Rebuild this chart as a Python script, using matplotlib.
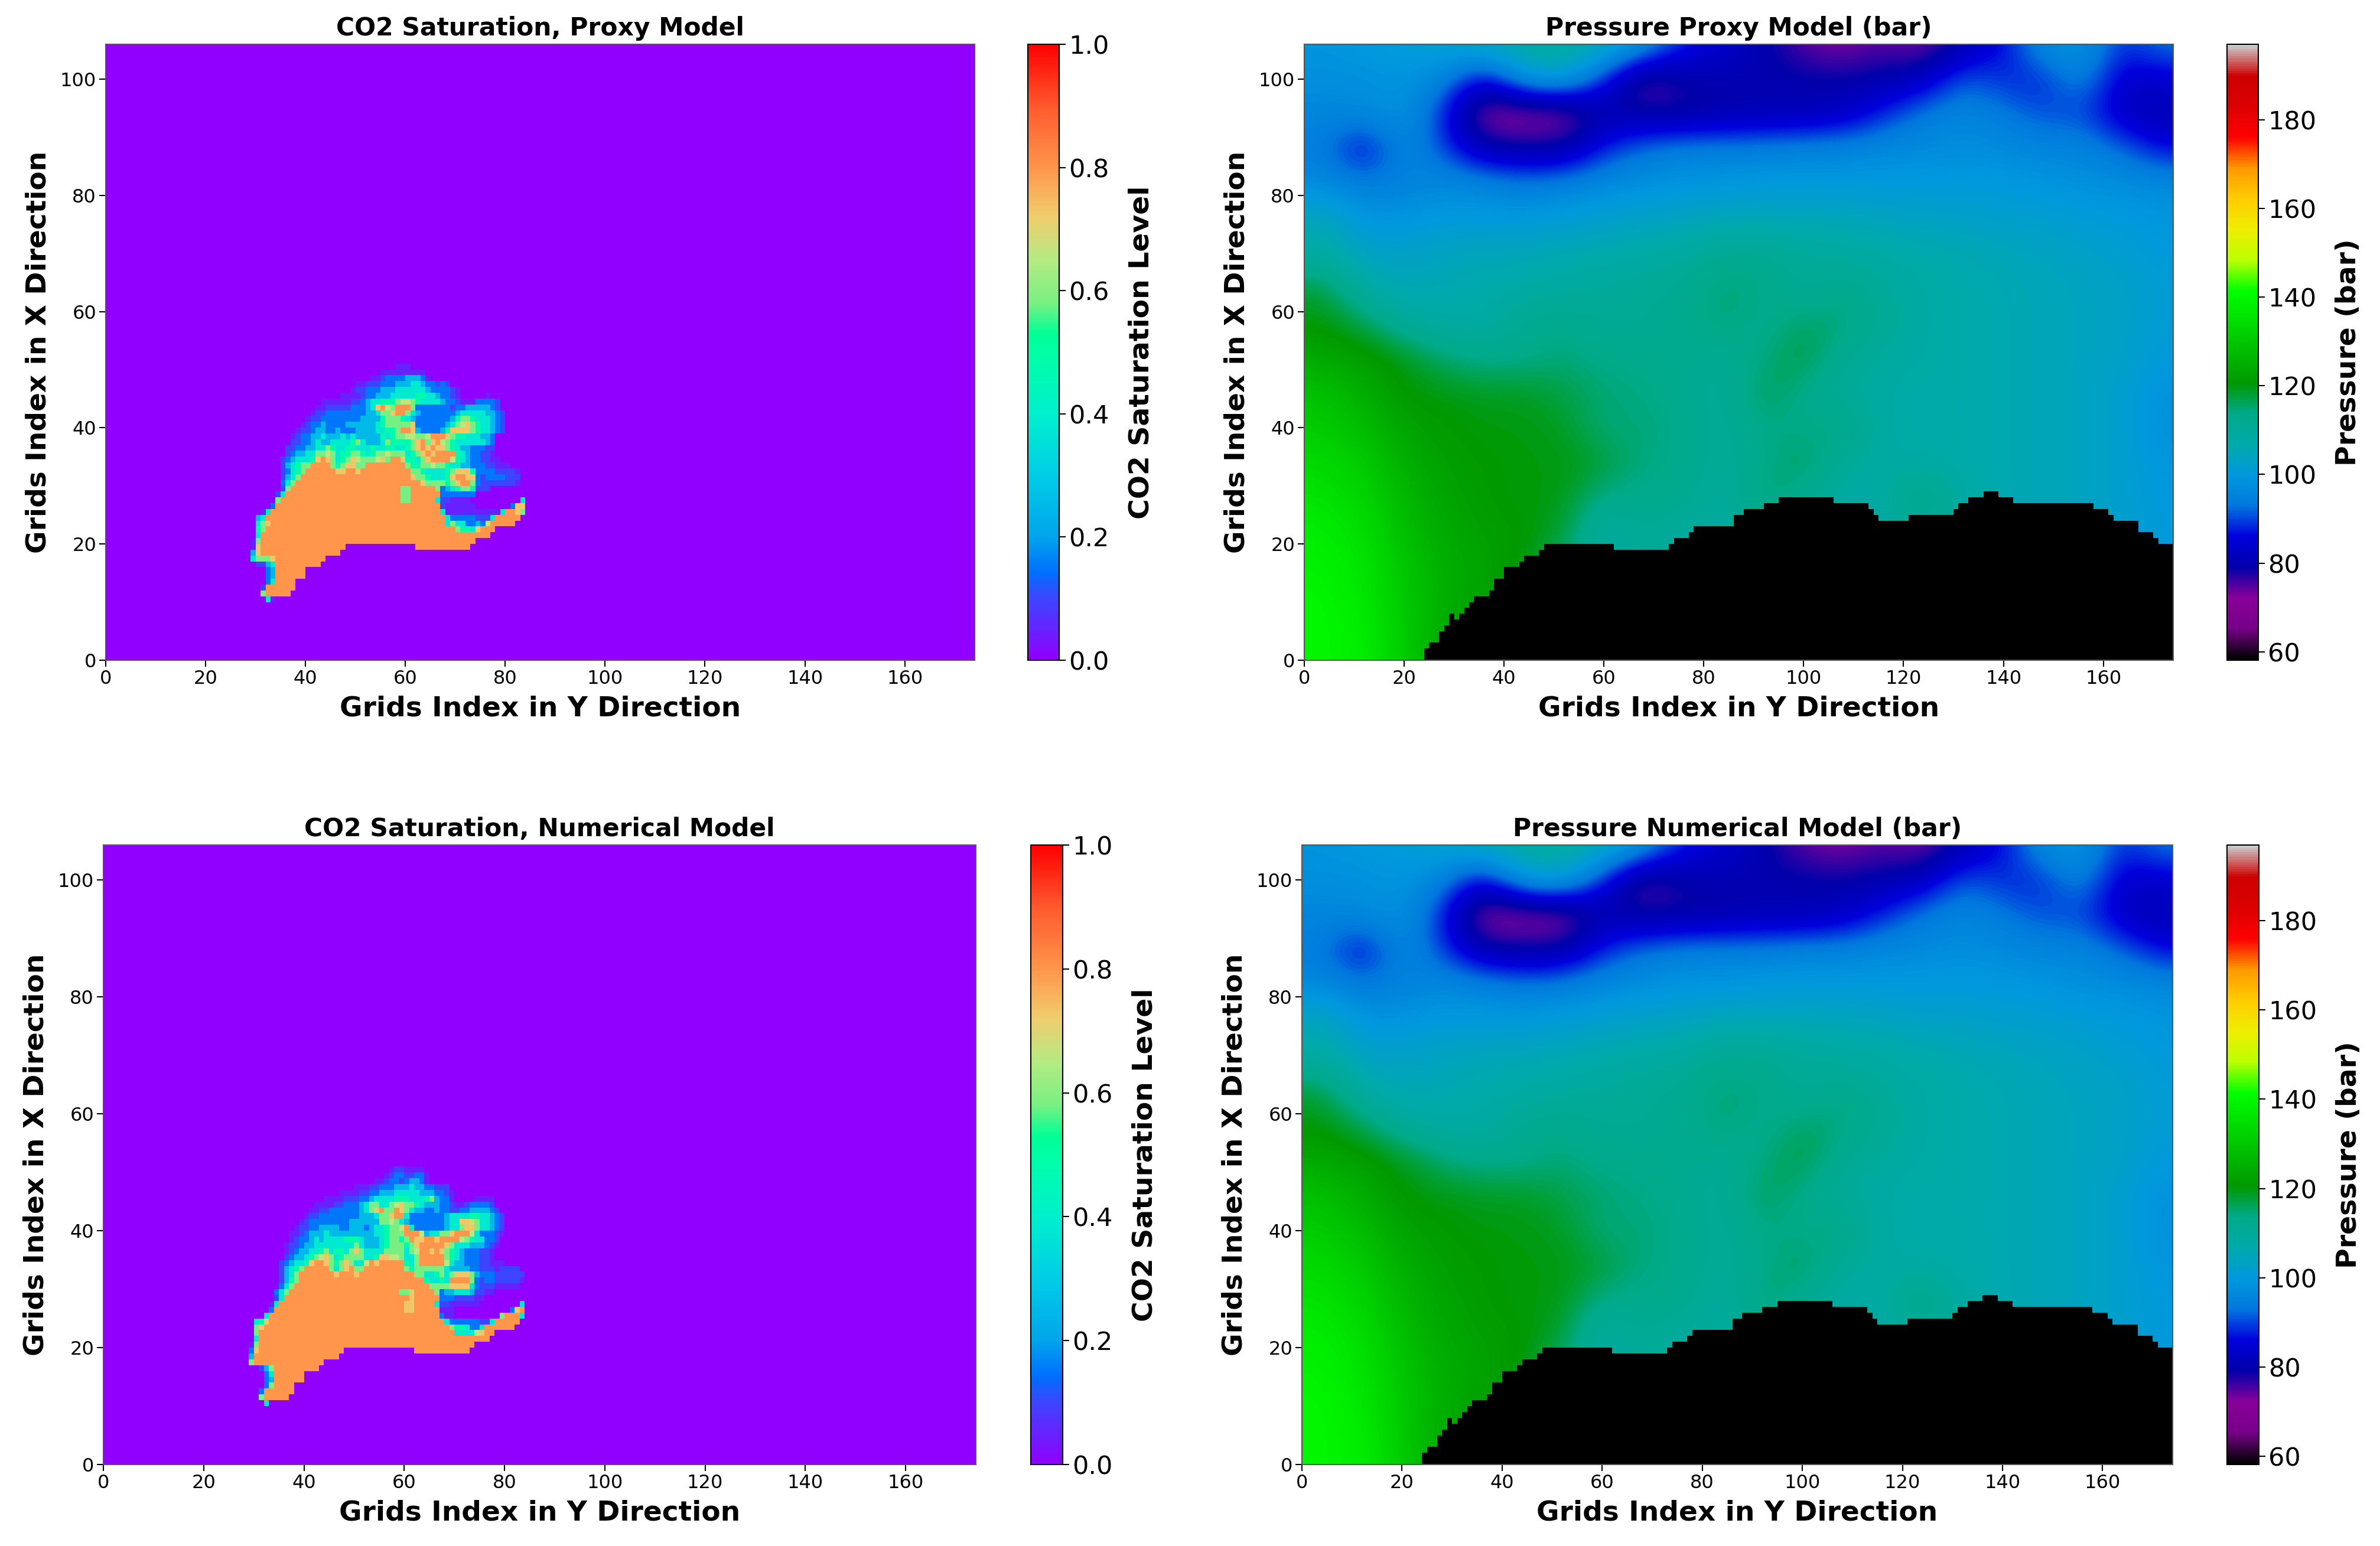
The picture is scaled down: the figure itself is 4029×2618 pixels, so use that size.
import numpy as np
import matplotlib
matplotlib.use("Agg")
import matplotlib.pyplot as plt
from matplotlib.colors import LinearSegmentedColormap

# ---- data ----
n_x = 174
n_y = 106

# saturation classes used in the plume rows
sat_codes = {'.': 0.0, 'a': 0.05, 'b': 0.1, 'c': 0.15, 'd': 0.25, 'e': 0.38,
             'f': 0.48, 'g': 0.58, 'h': 0.66, 'i': 0.73, 'j': 0.8}

first_row = 10

# first column of every plume row, rows 10..50
proxy_start = [32, 31, 31, 32, 32, 32, 30, 29, 29, 29, 29, 30, 30, 30, 30, 31, 33, 34, 34, 35, 35,
               35, 35, 35, 35, 36, 36, 37, 37, 38, 39, 40, 41, 42, 43, 47, 49, 50, 53, 55, 58]
proxy_rows = [
    "ea",
    "g" + "j" * 5,
    "b" + "j" * 6,
    "ce" + "j" * 4,
    "cd" + "j" * 6,
    "cd" + "j" * 6,
    "bbde" + "j" * 9,
    "egggi" + "j" * 10,
    "di" + "j" * 16,
    "ai" + "j" * 17 + "." * 14 + "j" * 11,
    "ag" + "j" * 43,
    "e" + "j" * 46,
    "fg" + "j" * 38 + "gffeijjj",
    "egi" + "j" * 35 + "egeeccdch" + "j" * 5,
    "de" + "j" * 36 + "e" + "ccccc" + "bbb" + "e" + "j" * 5,
    "ae" + "j" * 34 + "e" + "a" * 11 + "e" + "jjig",
    "c" + "j" * 33 + "b" + "a" * 6 + "." * 7 + "c" + "ii",
    "g" + "j" * 24 + "gg" + "j" * 5 + "e" + "bb" + "aaaa" + "." * 10 + "e",
    "be" + "j" * 23 + "gg" + "j" * 6 + "ccccccc",
    "bg" + "j" * 22 + "gg" + "j" * 5 + "g" + "cdefggf" + "bbb",
    "ceg" + "j" * 25 + "i" + "gggg" + "fgijjgc" + "bbbbbbb" + "a",
    "bdeg" + "j" * 22 + "iggfeeef" + "ijjii" + "cbccccbbb",
    "bcefg" + "j" * 6 + "ii" + "jj" + "i" + "j" * 10 + "ggfeeeef" + "giiif" + "ccccbbbba",
    "bdefgg" + "jjjj" + "gfgiigg" + "j" * 8 + "gffgghggf" + "eeddcccbbaaa",
    "bcdeeef" + "ijigefgihgggh" + "igjjiffegi" + "jjjj" + "hfedccbbaa",
    "bcddeegghgeffggfefgghggg" + "efgijijjjj" + "fedccbba",
    "bbccddeegfeeffeeefeeffee" + "fgijijiigfeddcccbb",
    "bbccdeddeeeefgedddegffffgijgijhgfeeeeeedc",
    "abccddedddededddddfefgghhgghjjjigffeeeddc",
    "abbcddccdcccddddeeffgjjidccccdfiiiigfeedcb",
    "abccdccccddddddefgggggiccccccdeghigfeedcb",
    "abbccccccccddddfgggfedcccccccdfggfeeedcb",
    "abbccccccccddeggijjgedcccccccdeeeeeddcb",
    "aabbbbbcccdeijhgjjjgcccccccbccdddddcb",
    "aaaaaabbcdeefffghhgfeeeedccbaaaccccb",
    "aaaabccdddeeeeeffeedccba.....a",
    "abbcccdddeeeeeedccccba",
    "aabbbcccdddeedccbcb",
    "aabccccdddca",
    "aaaaaaaaa",
    "aaa",
]

num_start = [32, 31, 31, 32, 32, 32, 31, 29, 29, 29, 29, 30, 30, 30, 30, 32, 33, 33, 34, 34, 35,
             35, 35, 35, 35, 36, 36, 36, 37, 37, 38, 39, 40, 41, 42, 44, 47, 50, 54, 56, 57]
num_rows = [
    "e",
    "g" + "j" * 5,
    "c" + "j" * 6,
    "cg" + "j" * 4,
    "cd" + "j" * 6,
    "ce" + "j" * 6,
    "bdg" + "j" * 9,
    "g" + "j" * 14,
    "d" + "j" * 17,
    "ci" + "j" * 17 + "." * 14 + "j" * 11,
    "ag" + "j" * 43,
    "e" + "j" * 46,
    "g" + "j" * 39 + "eeee" + "hijj",
    "gi" + "j" * 37 + "gffecce" + "j" * 6,
    "efi" + "j" * 35 + "e" + "cccccc" + "bb" + "e" + "j" * 5,
    "e" + "j" * 34 + "caa" + "." * 9 + "g" + "jjje",
    "c" + "j" * 26 + "ii" + "j" * 5 + "aaa" + "." * 11 + "c" + "ij",
    "ae" + "j" * 25 + "ii" + "j" * 4 + "e" + "bbaaaaaa" + "." * 8 + "e",
    "be" + "j" * 25 + "i" + "j" * 5 + "ccc" + "bbbb" + "aa",
    "ceg" + "j" * 22 + "ggi" + "j" * 4 + "g" + "cddeeedbbaa",
    "ceg" + "j" * 27 + "gggg" + "iiii" + "ec" + "bbb" + "aaaaa",
    "bdfg" + "j" * 25 + "feefejjjjgcbccbbbbba",
    "bdeg" + "j" * 7 + "i" + "jjj" + "i" + "j" * 11 + "ggeefgegiiigdcccbbbbbb",
    "bdefg" + "jjjjj" + "gegijgg" + "j" * 8 + "gfggggggeddddccbbbabbbb",
    "bcdeef" + "ijjigfgi" + "geeh" + "ji" + "j" * 5 + "feg" + "j" * 5 + "heddcccbbaaa",
    "bcddefghigefggggeefiihhgeeg" + "j" * 5 + "gfedcccbba",
    "abcddeefgeffegigeeeeggggeghjjijigfedcccbba",
    "abbcdd" + "eeeeeeee" + "gedddefgggfgi" + "j" * 5 + "igeeedddcba",
    "abccdedeeeefffedddefggfgjiijjijjjjhgfeeccb",
    "aabcddde" + "ddddddddd" + "eefgggjjjhdeeggijjjhecccba",
    "abbccddddccdddcdeefgghjeccccccdeegiigeedcb",
    "abccccccccddddddgghgedcccccccdeeiihgeedcb",
    "abbccccccccdddeggijjecccccccdeeeeffeedcb",
    "aabbccccccdegijggjigeddccdccbbccddddcb",
    "aaaabbcccdeggeeghiggfedddccbaabccccb",
    "aaaabbbccdeeeefffeeefgdcca....aaaa",
    "aaaabbccdddeeeeedddccba",
    "aaabbcccdddeddccbbb",
    "aabccbcddca",
    "abccbbcca",
    "abbaaaa",
]

# pressure in bar read every 8 columns (4, 12, ... 172) and every 6 rows (106, 100, ... -2)
pressure_rows = [
    [99, 100, 101, 103, 106, 109, 110, 107, 100, 88, 84, 80, 74, 72, 75, 72, 80, 86, 98, 100, 88, 94],
    [98, 98, 99, 96, 84, 100, 103, 88, 73, 79, 80, 80, 80, 79, 80, 82, 92, 88, 88, 96, 83, 84],
    [96, 97, 99, 88, 70, 70, 70, 80, 78, 78, 79, 80, 80, 82, 88, 94, 96, 94, 90, 90, 82, 80],
    [94, 84, 97, 90, 80, 79, 79, 88, 93, 95, 95, 95, 96, 96, 97, 97, 98, 97, 96, 96, 92, 86],
    [97, 94, 95, 97, 96, 94, 95, 97, 98, 99, 99, 100, 100, 100, 100, 100, 100, 100, 99, 98, 98, 97],
    [105, 99, 99, 100, 100, 100, 101, 102, 103, 104, 105, 105, 105, 105, 104, 103, 103, 102, 102, 101, 100, 99],
    [108, 103, 103, 104, 105, 105, 106, 107, 108, 109, 112, 112, 110, 109, 108, 107, 106, 105, 104, 103, 102, 100],
    [118, 108, 105, 106, 107, 108, 109, 110, 111, 112, 115, 114, 110, 113, 110, 108, 107, 106, 105, 104, 103, 101],
    [120, 117, 110, 108, 108, 112, 113, 111, 111, 112, 115, 112, 116, 115, 111, 108, 107, 106, 105, 104, 103, 101],
    [124, 122, 120, 115, 113, 113, 115, 113, 113, 112, 111, 114, 118, 111, 109, 108, 107, 106, 105, 104, 103, 100],
    [129, 125, 120, 120, 119, 119, 117, 115, 114, 112, 110, 117, 113, 110, 108, 107, 107, 106, 105, 104, 102, 98],
    [131, 128, 123, 121, 120, 120, 119, 114, 115, 113, 110, 114, 113, 115, 108, 107, 107, 106, 105, 104, 102, 98],
    [134, 131, 125, 122, 121, 120, 120, 118, 114, 113, 110, 113, 117, 110, 108, 108, 107, 106, 105, 104, 102, 99],
    [136, 133, 127, 123, 121, 120, 120, 113, 113, 113, 108, 116, 112, 108, 108, 116, 108, 106, 105, 104, 102, 100],
    [138, 135, 128, 124, 122, 121, 118, 107, 112, 108, 110, 110, 110, 108, 108, 110, 108, 106, 105, 104, 102, 100],
    [139, 136, 130, 125, 123, 120, 115, 110, 110, 110, 110, 110, 110, 108, 108, 108, 108, 106, 105, 104, 102, 100],
    [140, 137, 130, 125, 122, 120, 115, 110, 110, 110, 110, 110, 110, 108, 108, 108, 108, 106, 105, 104, 102, 100],
    [140, 138, 131, 124, 122, 120, 115, 110, 110, 110, 110, 110, 110, 108, 108, 108, 108, 106, 105, 104, 102, 100],
    [140, 138, 131, 124, 122, 120, 115, 110, 110, 110, 110, 110, 110, 108, 108, 108, 108, 106, 105, 104, 102, 100],
]

# height of the inactive (black) area, as runs of columns
inactive_heights = [0, 2, 3, 5, 6, 8, 7, 8, 9, 10, 11, 12, 14, 16, 17, 18, 19, 20, 19, 20, 21, 22, 23,
                    25, 26, 27, 28, 27, 26, 25, 24, 25, 26, 27, 28, 29, 28, 27, 26, 25, 24, 22, 21, 20]
inactive_widths = [24, 1, 2, 1, 1, 1, 1, 1, 1, 1, 3, 1, 2, 3, 1, 3, 1, 14, 11, 1, 3, 1, 8,
                   2, 4, 3, 11, 7, 1, 1, 6, 9, 1, 2, 3, 3, 3, 16, 3, 1, 5, 3, 1, 3]

x_ticks = [0, 20, 40, 60, 80, 100, 120, 140, 160]
y_ticks = [0, 20, 40, 60, 80, 100]
sat_ticks = [0.0, 0.2, 0.4, 0.6, 0.8, 1.0]
pressure_ticks = [60, 80, 100, 120, 140, 160, 180]
sat_range = (0.0, 1.0)
pressure_range = (58.1, 197.0)

# colours of the saturation colorbar
sat_levels = [0.0, 0.1, 0.14, 0.2, 0.3, 0.4, 0.5, 0.53, 0.58, 0.65, 0.72, 0.8, 0.9, 1.0]
sat_colors = ['#9100ff', '#3c46ff', '#006eff', '#00a5eb', '#00cde6', '#00f0cd', '#00ffa5',
              '#00ff96', '#78f082', '#b4eb82', '#f0cd6e', '#ff964b', '#ff5a2d', '#ff0000']


def plume_grid(starts, rows):
    grid = np.zeros((n_y, n_x))
    for i, (start, row) in enumerate(zip(starts, rows)):
        for j, c in enumerate(row):
            grid[first_row + i, start + j] = sat_codes[c]
    return grid


def inactive_mask():
    heights = np.repeat(inactive_heights, inactive_widths)[:n_x]
    mask = np.zeros((n_y, n_x))
    for col in range(len(heights)):
        mask[:heights[col], col] = 1
    return np.ma.masked_equal(mask, 0)


W, H = 4030.0, 2618.0


def add_axes_px(fig, left, top, right, bottom):
    return fig.add_axes([left / W, 1 - bottom / H, (right - left) / W, (bottom - top) / H])


def style_axes(ax, title):
    ax.set_xlim(0, n_x)
    ax.set_ylim(0, n_y)
    ax.set_aspect('auto')
    ax.set_xticks(x_ticks)
    ax.set_yticks(y_ticks)
    ax.tick_params(labelsize=23, length=8, width=1.5)
    ax.set_title(title, fontsize=30.5, fontweight='bold', pad=11)
    ax.set_xlabel("Grids Index in Y Direction", fontsize=33.8, fontweight='bold', labelpad=9)
    ax.set_ylabel("Grids Index in X Direction", fontsize=33.8, fontweight='bold', labelpad=10)
    for s in ax.spines.values():
        s.set_linewidth(1.5)
        s.set_color('#555555')


def style_cbar(cb, ticks, label, pad):
    cb.set_ticks(ticks)
    cb.ax.tick_params(labelsize=31, length=8, width=1.5)
    cb.set_label(label, fontsize=34, fontweight='bold', labelpad=pad)
    cb.outline.set_linewidth(1.5)


sat_cmap = LinearSegmentedColormap.from_list("sat", list(zip(sat_levels, sat_colors)))
black_cmap = LinearSegmentedColormap.from_list("blk", ['#000000', '#000000'])

fig = plt.figure(figsize=(W / 100, H / 100), dpi=100)

# panel positions in pixels: axes then colorbar
sat_panels = [
    ("CO2 Saturation, Proxy Model", proxy_start, proxy_rows, (179, 75, 1650, 1118), (1740, 75, 1793, 1118)),
    ("CO2 Saturation, Numerical Model", num_start, num_rows, (175, 1431, 1652, 2480), (1745, 1431, 1799, 2480)),
]
pressure_panels = [
    ("Pressure Proxy Model (bar)", (2208, 75, 3679, 1118), (3770, 75, 3823, 1118)),
    ("Pressure Numerical Model (bar)", (2204, 1431, 3678, 2480), (3770, 1431, 3824, 2480)),
]

for title, starts, rows, box, cbox in sat_panels:
    ax = add_axes_px(fig, box[0], box[1], box[2], box[3])
    im = ax.imshow(plume_grid(starts, rows), origin='lower', cmap=sat_cmap, vmin=sat_range[0], vmax=sat_range[1],
                   extent=(0, n_x, 0, n_y), interpolation='nearest', aspect='auto')
    style_axes(ax, title)
    cax = add_axes_px(fig, cbox[0], cbox[1], cbox[2], cbox[3])
    cb = fig.colorbar(im, cax=cax)
    style_cbar(cb, sat_ticks, "CO2 Saturation Level", 23)

for title, box, cbox in pressure_panels:
    ax = add_axes_px(fig, box[0], box[1], box[2], box[3])
    # readings sit on the middle of 8x6 cell blocks, the image smooths between them
    im = ax.imshow(np.array(pressure_rows, dtype=float), origin='upper', cmap='nipy_spectral',
                   vmin=pressure_range[0], vmax=pressure_range[1], extent=(0, 176, -5, 109),
                   interpolation='bicubic', interpolation_stage='data', aspect='auto')
    ax.imshow(inactive_mask(), origin='lower', cmap=black_cmap, extent=(0, n_x, 0, n_y),
              interpolation='nearest', aspect='auto')
    style_axes(ax, title)
    cax = add_axes_px(fig, cbox[0], cbox[1], cbox[2], cbox[3])
    cb = fig.colorbar(im, cax=cax)
    style_cbar(cb, pressure_ticks, "Pressure (bar)", 23)

fig.savefig("out.png", dpi=100)
